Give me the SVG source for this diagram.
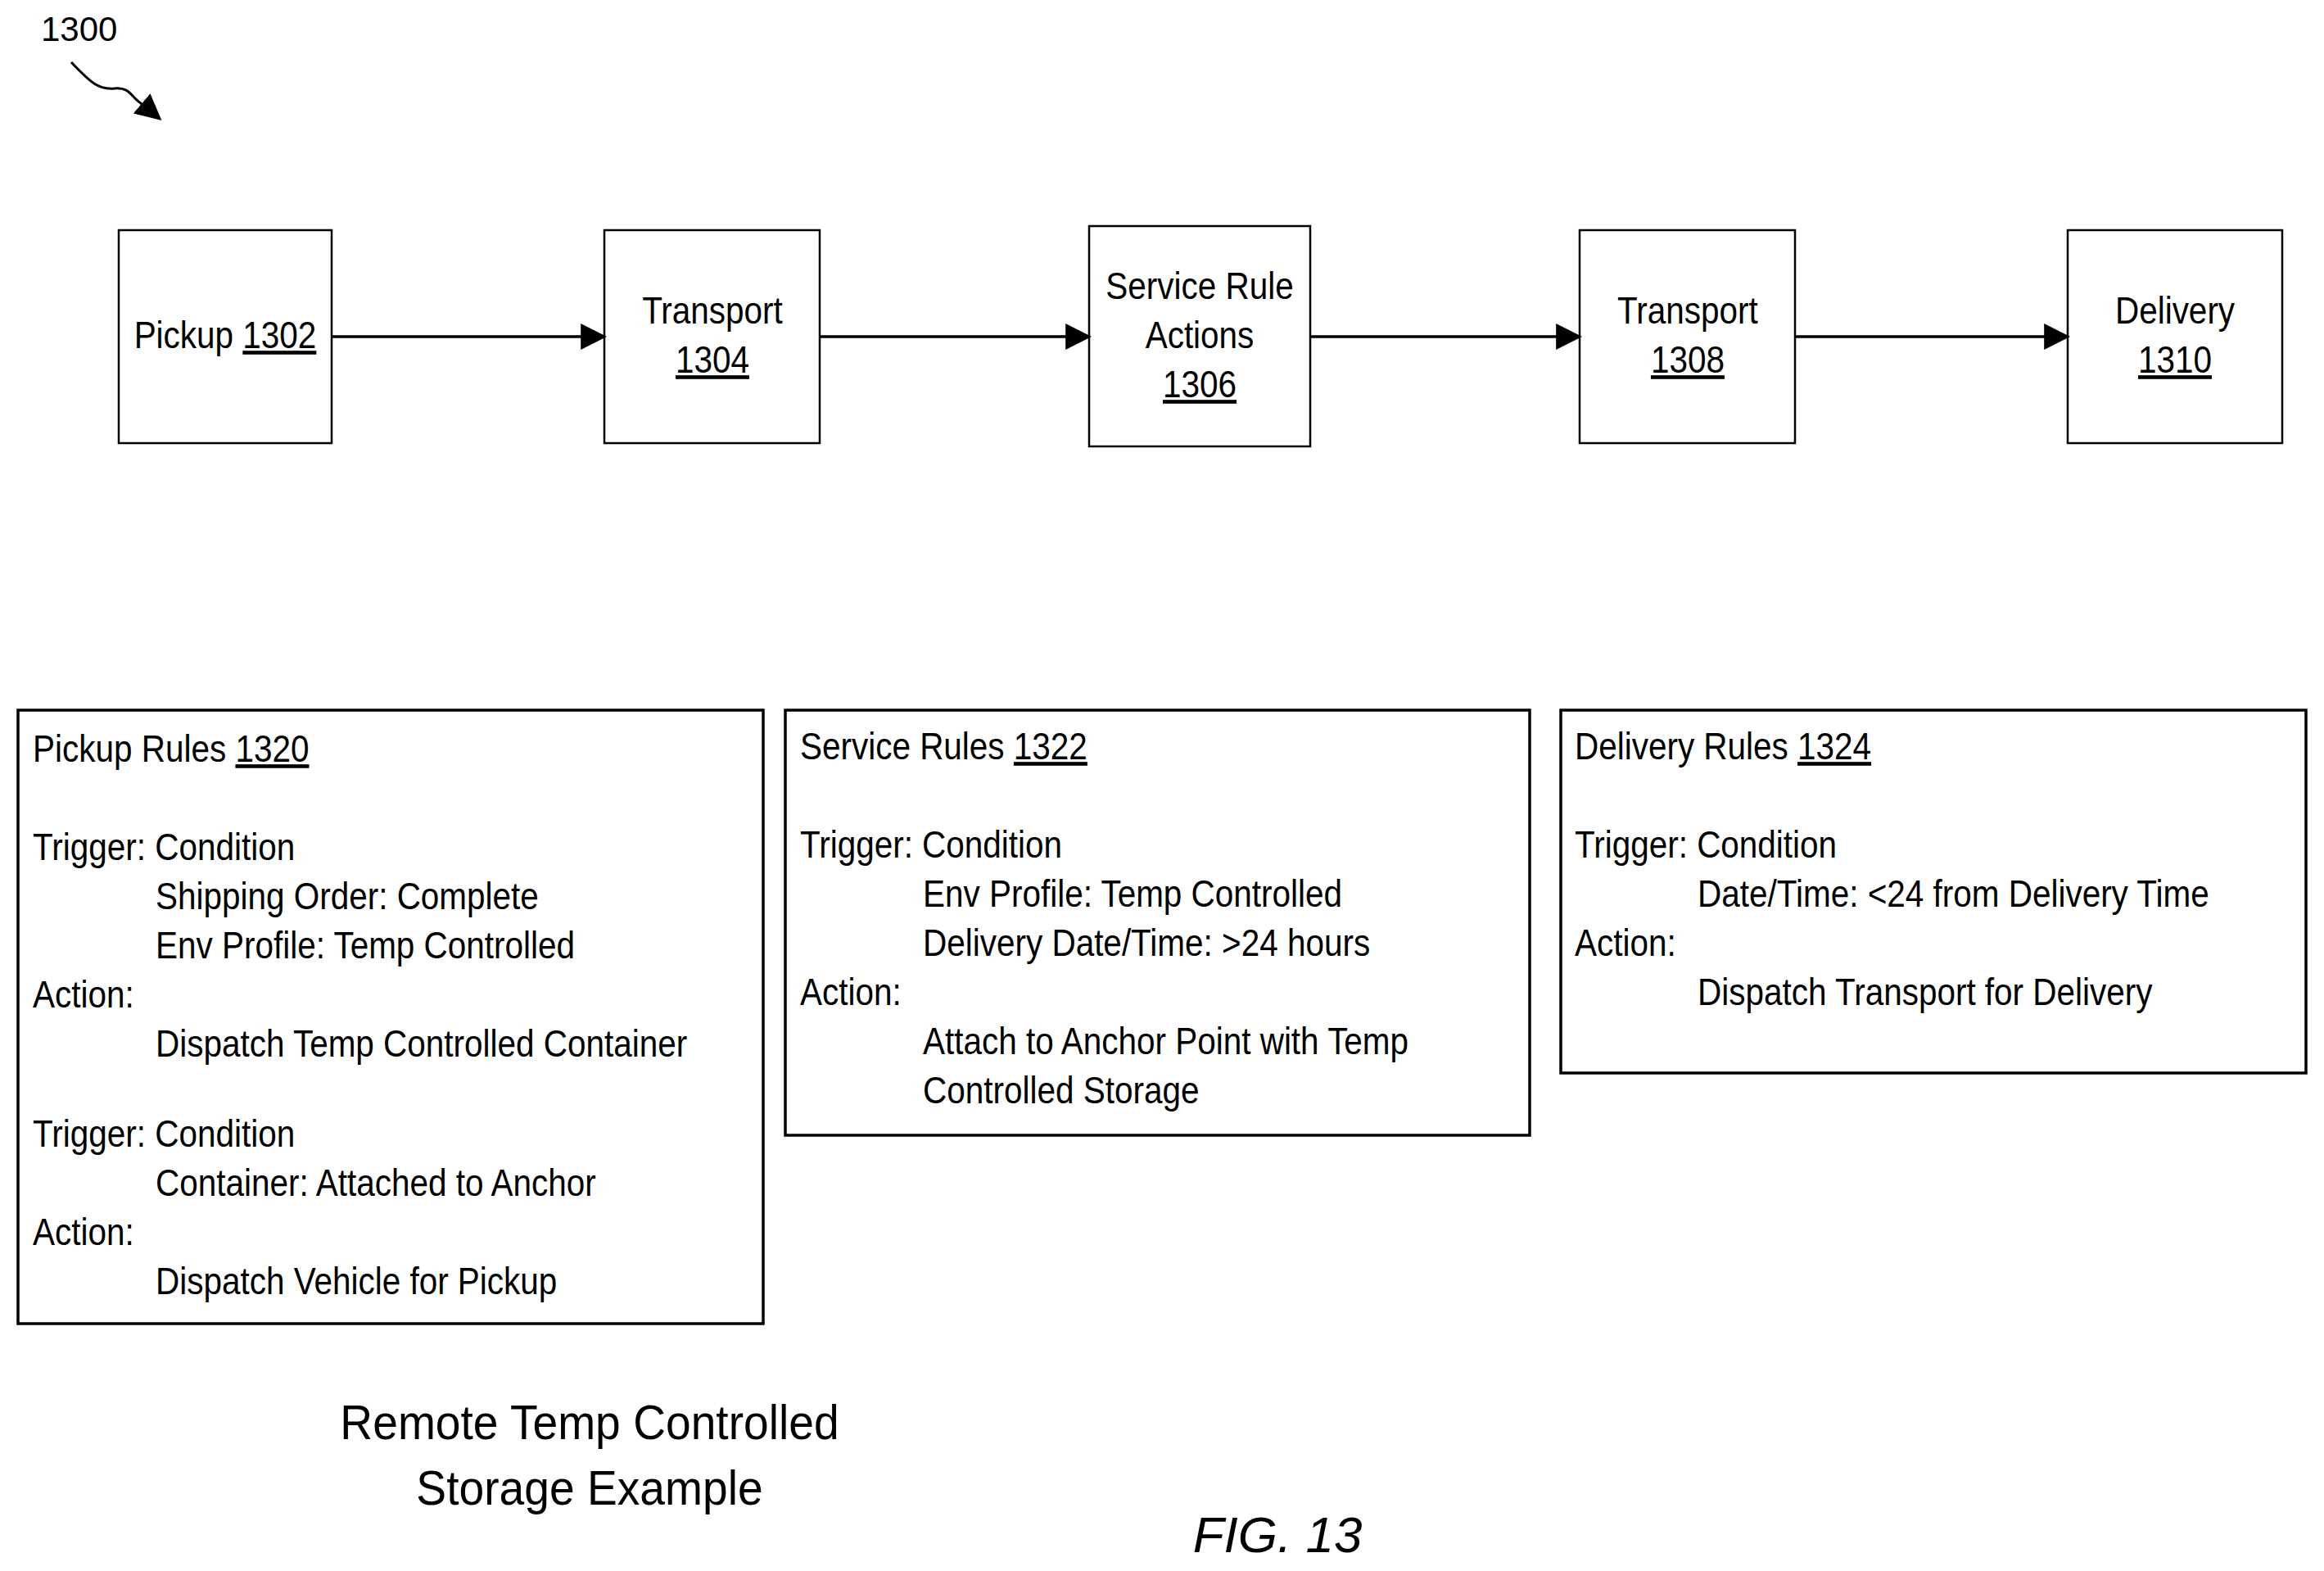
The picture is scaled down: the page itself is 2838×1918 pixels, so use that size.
<svg xmlns="http://www.w3.org/2000/svg" width="2838" height="1918" viewBox="0 0 2838 1918">
<style>
text{font-family:"Liberation Sans Narrow","Liberation Sans",sans-serif;fill:#000}
.n{font-size:46px;text-anchor:middle;transform:scaleX(0.88)}
.r{font-size:46px;transform:scaleX(0.88)}
.c{font-size:60px;text-anchor:middle;transform:scaleX(0.92)}
.u{text-decoration:underline}
rect{fill:#fff;stroke:#000;stroke-width:2.5}
.b rect{stroke-width:3.5}
line{stroke:#000;stroke-width:3.5}
</style>
<defs>
<marker id="a2" viewBox="0 0 10 10" refX="9" refY="5" markerWidth="32" markerHeight="32" orient="auto" markerUnits="userSpaceOnUse"><path d="M0,0L10,5L0,10z"/></marker></defs>
<text x="50" y="50" style="font-family:'Liberation Sans',sans-serif;font-size:42px">1300</text>
<path d="M87,76 C110,100 120,110 140,108 C160,106 160,120 175,128 L195,145" fill="none" stroke="#000" stroke-width="3" marker-end="url(#a2)"/>
<g id="n1302"><rect x="145" y="281" width="260" height="260"/><text class="n" x="312.5" y="425">Pickup <tspan class="u">1302</tspan></text></g>
<g id="n1304"><rect x="738" y="281" width="263" height="260"/><text class="n" x="988.6" y="395">Transport</text><text class="n" x="988.6" y="455"><tspan class="u">1304</tspan></text></g>
<g id="n1306"><rect x="1330" y="276" width="270" height="269"/><text class="n" x="1664.8" y="365">Service Rule</text><text class="n" x="1664.8" y="425">Actions</text><text class="n" x="1664.8" y="485"><tspan class="u">1306</tspan></text></g>
<g id="n1308"><rect x="1929" y="281" width="263" height="260"/><text class="n" x="2342" y="395">Transport</text><text class="n" x="2342" y="455"><tspan class="u">1308</tspan></text></g>
<g id="n1310"><rect x="2525" y="281" width="262" height="260"/><text class="n" x="3018.2" y="395">Delivery</text><text class="n" x="3018.2" y="455"><tspan class="u">1310</tspan></text></g>
<g id="connectors">
<line x1="405" y1="411" x2="738" y2="411" marker-end="url(#a2)"/>
<line x1="1001" y1="411" x2="1330" y2="411" marker-end="url(#a2)"/>
<line x1="1600" y1="411" x2="1929" y2="411" marker-end="url(#a2)"/>
<line x1="2192" y1="411" x2="2525" y2="411" marker-end="url(#a2)"/>
</g>
<g id="n1320" class="b"><rect x="22" y="867" width="910" height="749"/>
<text class="r" x="45.5" y="930">Pickup Rules <tspan class="u">1320</tspan></text>
<text class="r" x="45.5" y="1050">Trigger: Condition</text>
<text class="r" x="215.9" y="1110">Shipping Order: Complete</text>
<text class="r" x="215.9" y="1170">Env Profile: Temp Controlled</text>
<text class="r" x="45.5" y="1230">Action:</text>
<text class="r" x="215.9" y="1290">Dispatch Temp Controlled Container</text>
<text class="r" x="45.5" y="1400">Trigger: Condition</text>
<text class="r" x="215.9" y="1460">Container: Attached to Anchor</text>
<text class="r" x="45.5" y="1520">Action:</text>
<text class="r" x="215.9" y="1580">Dispatch Vehicle for Pickup</text></g>
<g id="n1322" class="b"><rect x="959" y="867" width="909" height="519"/>
<text class="r" x="1110.2" y="927">Service Rules <tspan class="u">1322</tspan></text>
<text class="r" x="1110.2" y="1047">Trigger: Condition</text>
<text class="r" x="1280.7" y="1107">Env Profile: Temp Controlled</text>
<text class="r" x="1280.7" y="1167">Delivery Date/Time: &gt;24 hours</text>
<text class="r" x="1110.2" y="1227">Action:</text>
<text class="r" x="1280.7" y="1287">Attach to Anchor Point with Temp</text>
<text class="r" x="1280.7" y="1347">Controlled Storage</text></g>
<g id="n1324" class="b"><rect x="1906" y="867" width="910" height="443"/>
<text class="r" x="2185.2" y="927">Delivery Rules <tspan class="u">1324</tspan></text>
<text class="r" x="2185.2" y="1047">Trigger: Condition</text>
<text class="r" x="2355.7" y="1107">Date/Time: &lt;24 from Delivery Time</text>
<text class="r" x="2185.2" y="1167">Action:</text>
<text class="r" x="2355.7" y="1227">Dispatch Transport for Delivery</text></g>
<text class="c" x="782.6" y="1757">Remote Temp Controlled</text>
<text class="c" x="782.6" y="1837">Storage Example</text>
<text x="1560" y="1895" style="font-family:'Liberation Sans',sans-serif;font-style:italic;font-size:62px;text-anchor:middle">FIG. 13</text>
</svg>
